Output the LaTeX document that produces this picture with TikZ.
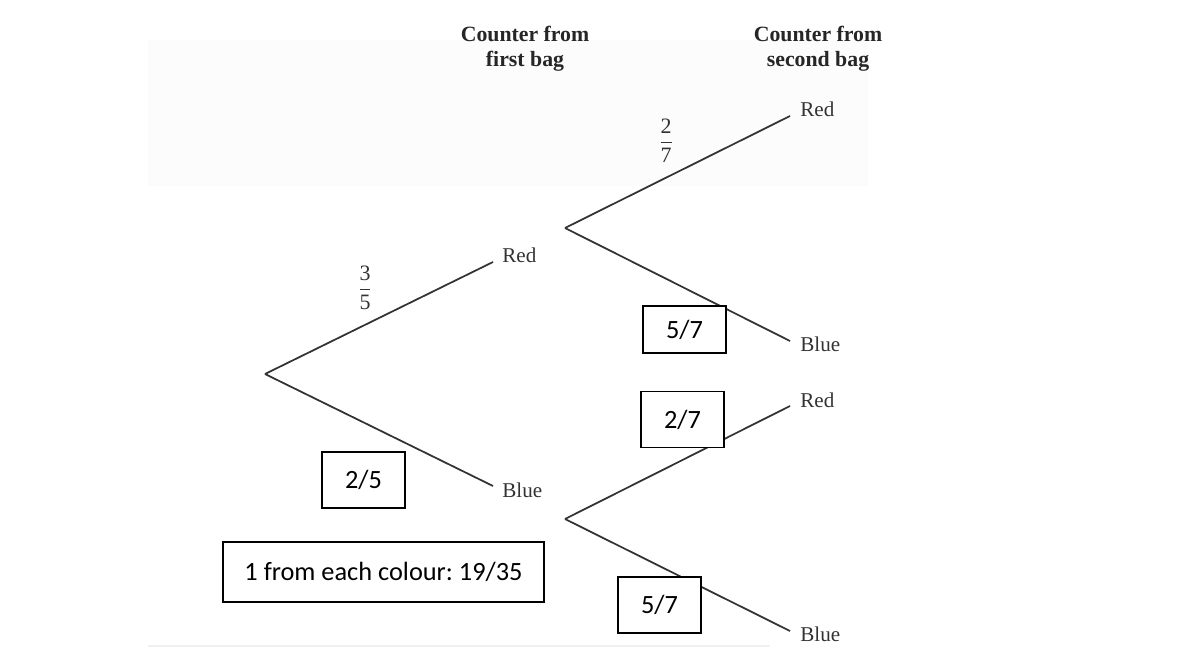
\documentclass[tikz,border=0pt]{standalone}
\usepackage{amsmath,fontspec}
\setmainfont{Liberation Serif}
\newfontfamily\answerfont{Carlito}
\usetikzlibrary{calc,positioning}
\frenchspacing

\begin{document}
\begin{tikzpicture}[x=0.02cm,y=-0.02cm,
  branch/.style={line width=1pt,black!80},
  leaf/.style={font=\fontsize{12}{14}\selectfont,text=black!80,anchor=base west,inner sep=0pt},
  head/.style={font=\fontsize{12.4}{14.2}\selectfont\bfseries,text=black!85,align=center,anchor=north,inner sep=0pt},
  prob/.style={font=\fontsize{12.5}{14}\selectfont,text=black!80,inner sep=0pt},
  answer/.style={draw,line width=1.1pt,fill=white,inner sep=0pt,font=\answerfont\fontsize{15}{17}\selectfont}]
  \useasboundingbox (0,0) rectangle (1200,648);
  \fill[black!1] (148,40) rectangle (868,186);
  \draw[black!6,line width=1pt] (148,646) -- (770,646);

  % column headings
  \node[head] (h1) at (525,26) {Counter from\\first bag};
  \node[head] (h2) at (818,26) {Counter from\\second bag};

  % branch points
  \coordinate (root) at (265,374);
  \coordinate (r1) at (493,262);
  \coordinate (b1) at (493,486);
  \coordinate (n2) at (565,228);
  \coordinate (n3) at (565,519);
  \coordinate (r2) at (790,116);
  \coordinate (b2) at (790,341);
  \coordinate (r3) at (790,406);
  \coordinate (b3) at (790,631);

  \draw[branch] (root) -- (r1) node[prob,midway,xshift=-0.28cm,yshift=0.6cm] {$\dfrac{\text{3}}{\text{5}}$};
  \draw[branch] (root) -- (b1);
  \draw[branch] (n2) -- (r2) node[prob,midway,xshift=-0.23cm,yshift=0.62cm] {$\dfrac{\text{2}}{\text{7}}$};
  \draw[branch] (n2) -- (b2);
  \draw[branch] (n3) -- (r3);
  \draw[branch] (n3) -- (b3);

  \node[leaf] (lr1) at ($(r1)+(9,1)$) {Red};
  \node[leaf] (lb1) at ($(b1)+(9,11)$) {Blue};
  \node[leaf] (lr2) at ($(r2)+(10,1)$) {Red};
  \node[leaf] (lb2) at ($(b2)+(10,11)$) {Blue};
  \node[leaf] (lr3) at ($(r3)+(10,1)$) {Red};
  \node[leaf] (lb3) at ($(b3)+(10,10)$) {Blue};

  % worked answers
  \node[answer,minimum width=1.66cm,minimum height=1.12cm] (a1) at (363.5,480) {2/5};
  \node[answer,minimum width=1.66cm,minimum height=0.94cm] (a2) at (684.5,329.5) {5/7};
  \node[answer,minimum width=1.66cm,minimum height=1.12cm] (a3) at (682.5,419.5) {2/7};
  \node[answer,minimum width=1.66cm,minimum height=1.12cm] (a4) at (659.5,605) {5/7};
  \node[answer,minimum width=6.42cm,minimum height=1.2cm] (total) at (383.5,572) {1 from each colour: 19/35};
\end{tikzpicture}
\end{document}
